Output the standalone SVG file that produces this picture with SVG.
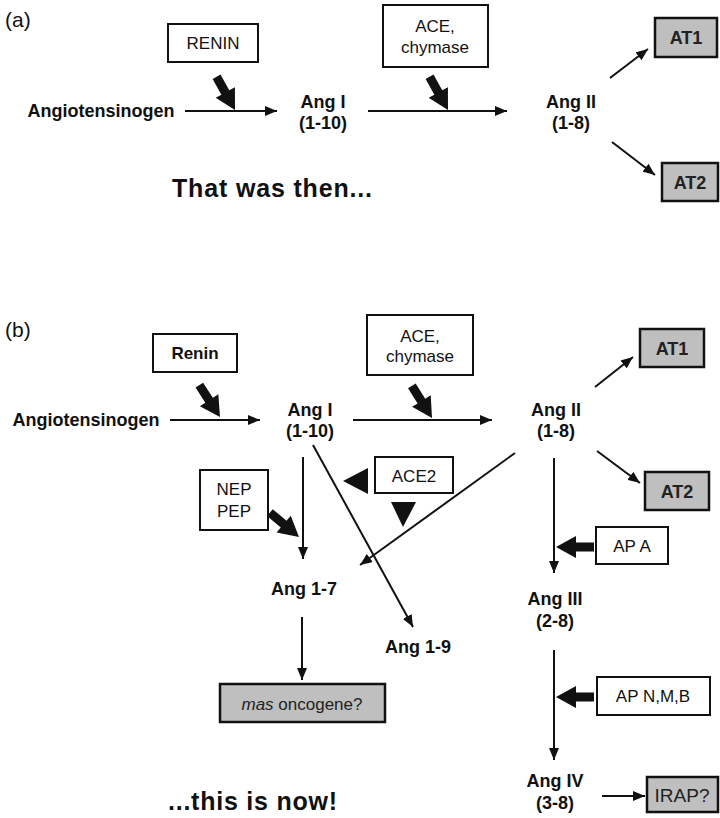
<svg xmlns="http://www.w3.org/2000/svg" xmlns:xlink="http://www.w3.org/1999/xlink" width="720" height="818" viewBox="0 0 720 818">
<style>
text{font-family:"Liberation Sans",Arial,sans-serif;fill:#111;}
.lbl{font-size:18px;font-weight:bold;text-anchor:middle;}
.box{fill:#fff;stroke:#111;stroke-width:2;}
.gbox{fill:#bfbfbf;stroke:#111;stroke-width:2.5;}
.bt{font-size:17px;text-anchor:middle;}
.gt{font-size:18px;font-weight:bold;text-anchor:middle;fill:#222;}
.pn{font-size:21px;}
.big{font-size:25px;font-weight:bold;}
.ln{stroke:#111;stroke-width:2;fill:none;}
.fat{fill:#111;}
</style>
<defs>
<marker id="ah" viewBox="0 0 12 10" refX="12" refY="5" markerWidth="12" markerHeight="10" markerUnits="userSpaceOnUse" orient="auto"><path d="M0,0 L12,5 L0,10 Z" fill="#111"/></marker>
<path id="fatarrow" d="M0,0 L-20,-11 L-20,-4.5 L-38,-4.5 L-38,4.5 L-20,4.5 L-20,11 Z"/>
</defs>

<!-- Panel (a) -->
<text class="pn" x="5" y="27">(a)</text>

<g id="a-renin"><rect class="box" x="168" y="24" width="90" height="38"/><text class="bt" x="213" y="49">RENIN</text></g>
<g id="a-angiotensinogen"><text class="lbl" x="101" y="117">Angiotensinogen</text></g>
<g id="a-angI"><text class="lbl" x="323" y="108">Ang I</text><text class="lbl" x="323" y="129">(1-10)</text></g>
<g id="a-ace"><rect class="box" x="383" y="5" width="105" height="62"/><text class="bt" x="435" y="32">ACE,</text><text class="bt" x="435" y="53">chymase</text></g>
<g id="a-angII"><text class="lbl" x="571" y="108">Ang II</text><text class="lbl" x="571" y="129">(1-8)</text></g>
<g id="a-at1"><rect class="gbox" x="655" y="18" width="62" height="39"/><text class="gt" x="686" y="44">AT1</text></g>
<g id="a-at2"><rect class="gbox" x="662" y="163" width="56" height="38"/><text class="gt" x="690" y="189">AT2</text></g>
<text class="big" x="172" y="197" textLength="200" lengthAdjust="spacing">That was then...</text>

<!-- Panel (b) -->
<text class="pn" x="5" y="337">(b)</text>

<g id="b-renin"><rect class="box" x="153" y="334" width="84" height="38"/><text class="bt" x="195" y="359" font-weight="bold">Renin</text></g>
<g id="b-angiotensinogen"><text class="lbl" x="86" y="426">Angiotensinogen</text></g>
<g id="b-angI"><text class="lbl" x="310" y="416">Ang I</text><text class="lbl" x="310" y="437">(1-10)</text></g>
<g id="b-ace"><rect class="box" x="367" y="315" width="106" height="60"/><text class="bt" x="420" y="342">ACE,</text><text class="bt" x="420" y="362">chymase</text></g>
<g id="b-angII"><text class="lbl" x="556" y="416">Ang II</text><text class="lbl" x="556" y="437">(1-8)</text></g>
<g id="b-at1"><rect class="gbox" x="640" y="329" width="64" height="38"/><text class="gt" x="672" y="355">AT1</text></g>
<g id="b-at2"><rect class="gbox" x="645" y="472" width="64" height="38"/><text class="gt" x="677" y="498">AT2</text></g>
<g id="b-ace2"><rect class="box" x="375" y="457" width="78" height="36"/><text class="bt" x="414" y="482">ACE2</text></g>
<g id="b-nep"><rect class="box" x="200" y="470" width="68" height="60"/><text class="bt" x="234" y="495">NEP</text><text class="bt" x="234" y="517">PEP</text></g>
<g id="b-apa"><rect class="box" x="596" y="527" width="72" height="37"/><text class="bt" x="632" y="552">AP A</text></g>
<g id="b-ang17"><text class="lbl" x="304" y="595">Ang 1-7</text></g>
<g id="b-ang19"><text class="lbl" x="418" y="653">Ang 1-9</text></g>
<g id="b-angIII"><text class="lbl" x="555" y="605">Ang III</text><text class="lbl" x="555" y="627">(2-8)</text></g>
<g id="b-mas"><rect class="gbox" x="220" y="684" width="165" height="38"/><text class="bt" x="302" y="710" style="fill:#222"><tspan font-style="italic">mas</tspan> oncogene?</text></g>
<g id="b-apnmb"><rect class="box" x="597" y="677" width="113" height="38"/><text class="bt" x="653" y="702">AP N,M,B</text></g>
<g id="b-angIV"><text class="lbl" x="555" y="787">Ang IV</text><text class="lbl" x="555" y="809">(3-8)</text></g>
<g id="b-irap"><rect class="gbox" x="647" y="777" width="71" height="35"/><text class="bt" x="682" y="802" style="fill:#222;font-size:19px">IRAP?</text></g>
<text class="big" x="168" y="810" textLength="169" lengthAdjust="spacing">...this is now!</text>

<g id="connectors">
<!-- (a) -->
<line class="ln" x1="185" y1="111" x2="277" y2="111" marker-end="url(#ah)"/>
<line class="ln" x1="368" y1="111" x2="507" y2="111" marker-end="url(#ah)"/>
<line class="ln" x1="610" y1="78" x2="648" y2="49" marker-end="url(#ah)"/>
<line class="ln" x1="612" y1="142" x2="655" y2="175" marker-end="url(#ah)"/>
<use xlink:href="#fatarrow" class="fat" transform="translate(235,110) rotate(61)"/>
<use xlink:href="#fatarrow" class="fat" transform="translate(448,110) rotate(61)"/>
<!-- (b) -->
<line class="ln" x1="170" y1="420" x2="260" y2="420" marker-end="url(#ah)"/>
<line class="ln" x1="353" y1="420" x2="492" y2="420" marker-end="url(#ah)"/>
<line class="ln" x1="595" y1="387" x2="633" y2="357" marker-end="url(#ah)"/>
<line class="ln" x1="597" y1="451" x2="640" y2="483" marker-end="url(#ah)"/>
<use xlink:href="#fatarrow" class="fat" transform="translate(220,417) rotate(57)"/>
<use xlink:href="#fatarrow" class="fat" transform="translate(432,418) rotate(58)"/>
<line class="ln" x1="303" y1="457" x2="303" y2="559" marker-end="url(#ah)"/>
<line class="ln" x1="313" y1="445" x2="413" y2="627" marker-end="url(#ah)"/>
<line class="ln" x1="515" y1="453" x2="360" y2="565" marker-end="url(#ah)"/>
<use xlink:href="#fatarrow" class="fat" transform="translate(299,537) rotate(40)"/>
<polygon class="fat" points="343,481 368,468 368,494"/>
<polygon class="fat" points="391,502 416,502 403,527"/>
<line class="ln" x1="554" y1="458" x2="554" y2="573" marker-end="url(#ah)"/>
<use xlink:href="#fatarrow" class="fat" transform="translate(556,547) rotate(180)"/>
<line class="ln" x1="554" y1="650" x2="554" y2="760" marker-end="url(#ah)"/>
<use xlink:href="#fatarrow" class="fat" transform="translate(556,697) rotate(180)"/>
<line class="ln" x1="302" y1="617" x2="302" y2="680" marker-end="url(#ah)"/>
<line class="ln" x1="602" y1="796" x2="645" y2="796" marker-end="url(#ah)"/>
</g>
</svg>
